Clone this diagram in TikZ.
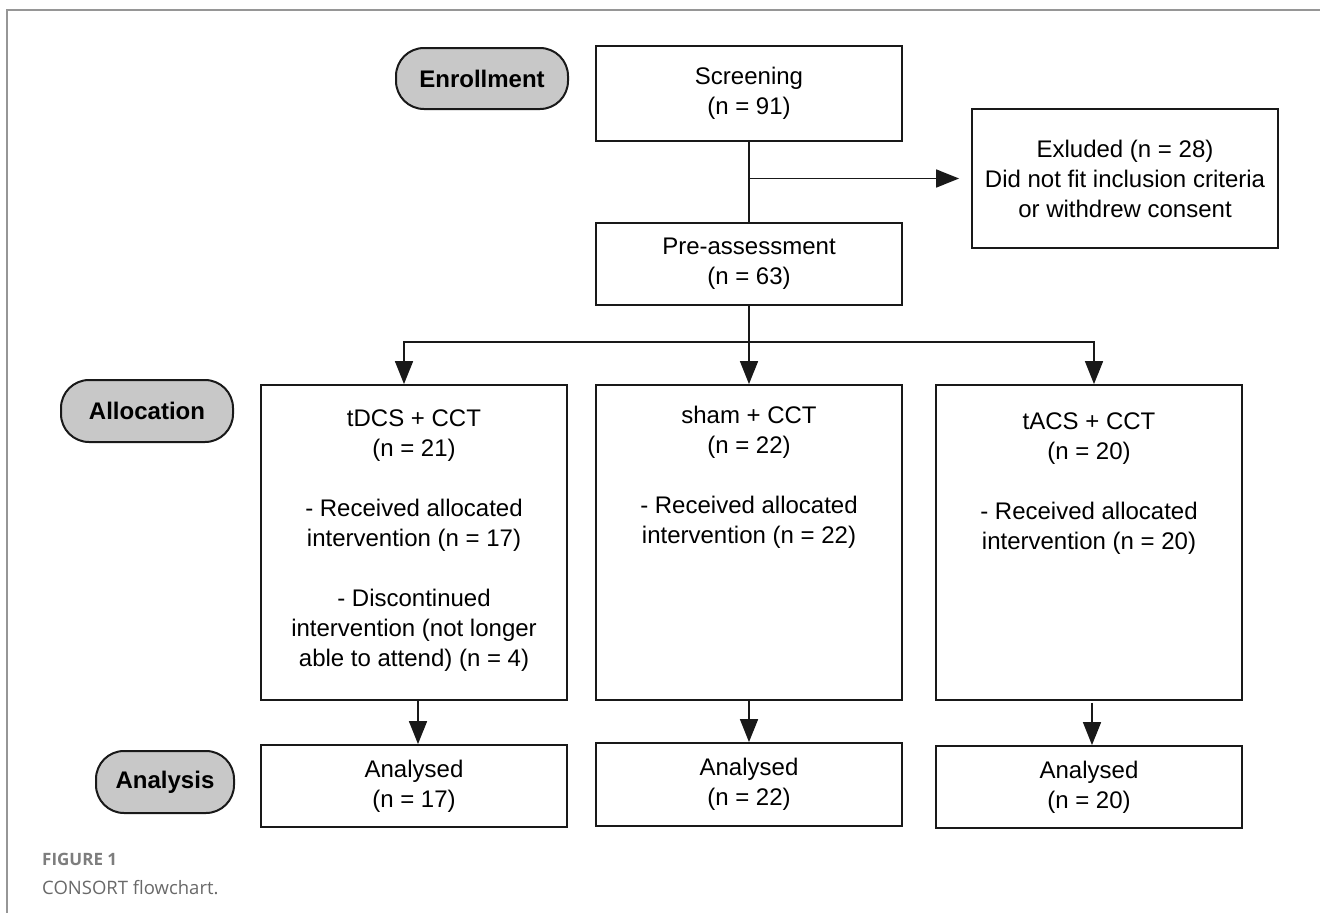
\documentclass[tikz,border=0pt]{standalone}
\usepackage{fontspec}
\setmainfont{Liberation Sans}
\newfontfamily\capfont{Open Sans}
\usetikzlibrary{arrows.meta,calc}
\definecolor{pillc}{RGB}{200,200,200}
\definecolor{boxc}{RGB}{25,25,25}
\definecolor{framec}{RGB}{150,150,150}
\definecolor{capc}{RGB}{125,125,125}
\definecolor{capd}{RGB}{105,105,105}
\begin{document}
\begin{tikzpicture}[x=1pt,y=-1pt,
  box/.style={draw=boxc, line width=1.8pt, minimum width=306pt, inner sep=0pt, align=center, font=\fontsize{24}{30}\selectfont},
  pill/.style={draw=boxc, line width=2pt, fill=pillc, rounded corners=28pt, inner sep=0pt, font=\bfseries\fontsize{24}{30}\selectfont},
  txt/.style={align=center, inner sep=0pt, font=\fontsize{24}{30}\selectfont},
  conn/.style={draw=boxc, line width=1.6pt},
  arr/.style={conn, -{Triangle[length=23pt,width=18pt]}},
]
\useasboundingbox (0,0) rectangle (1320,913);
\fill[white] (0,0) rectangle (1320,913);
% frame
\draw[framec, line width=1.3pt] (1320,10) -- (7,10) -- (7,913);

% phase pills
\node[pill, minimum width=172pt, minimum height=61pt] (enroll) at (482,78.5) {Enrollment};
\node[pill, minimum width=172pt, minimum height=62pt] (alloc) at (147,411) {Allocation};
\node[pill, minimum width=138pt, minimum height=62pt] (analysis) at (165,782) {Analysis};

% top boxes
\node[box, minimum height=95pt] (screen) at (749,93.5) {Screening\\(n = 91)};
\node[box, minimum height=139pt] (excl) at (1125,178.5) {Exluded (n = 28)\\Did not fit inclusion criteria\\or withdrew consent};
\node[box, minimum height=82pt] (pre) at (749,264) {Pre-assessment\\(n = 63)};

% allocation boxes
\node[box, minimum height=315pt] (tdcs) at (414,542.5) {};
\node[box, minimum height=315pt] (sham) at (749,542.5) {};
\node[box, minimum height=315pt] (tacs) at (1089,542.5) {};
\node[txt, anchor=north] (tdcst) at (414,409.2) {tDCS + CCT\\(n = 21)\\[30pt]- Received allocated\\intervention (n = 17)\\[30pt]- Discontinued\\intervention (not longer\\able to attend) (n = 4)};
\node[txt, anchor=north] (shamt) at (749,406) {sham + CCT\\(n = 22)\\[30pt]- Received allocated\\intervention (n = 22)};
\node[txt, anchor=north] (tacst) at (1089,412.5) {tACS + CCT\\(n = 20)\\[30pt]- Received allocated\\intervention (n = 20)};

% analysis boxes
\node[box, minimum height=82pt] (an1) at (414,786) {Analysed\\(n = 17)};
\node[box, minimum height=83pt] (an2) at (749,784.5) {Analysed\\(n = 22)};
\node[box, minimum height=82pt] (an3) at (1089,787) {Analysed\\(n = 20)};

% connectors
\draw[conn] (screen.south) -- (pre.north);
\coordinate (split) at (749,178.5);
\draw[arr, shorten >=12pt] (split) -- (excl.west);
\coordinate (hub) at (749,342);
\draw[conn] (pre.south) -- (hub);
\draw[arr] (hub) -| ($(tdcs.north)+(-10,0)$);
\draw[arr] (hub) -| ($(tacs.north)+(5,0)$);
\draw[arr] (hub) -- (sham.north);
\draw[arr] ($(tdcs.south)+(4,0)$) -- ($(an1.north)+(4,0)$);
\draw[arr] (sham.south) -- (an2.north);
\draw[arr] ($(tacs.south)+(3,2)$) -- ($(an3.north)+(3,0)$);

% caption
\node[anchor=base west, inner sep=0pt, text=capc, font=\capfont\bfseries\fontsize{17}{20}\selectfont] (fig) at (42,865) {FIGURE 1};
\node[anchor=base west, inner sep=0pt, text=capd, font=\capfont\fontsize{18.5}{22}\selectfont] (cap) at (42,894) {CONSORT flowchart.};
\end{tikzpicture}
\end{document}
